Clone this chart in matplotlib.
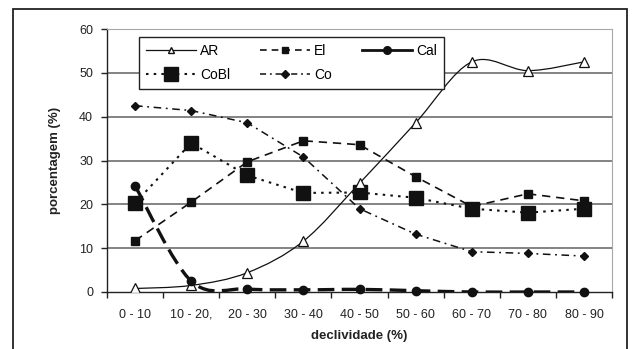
import matplotlib
matplotlib.use("Agg")
import matplotlib.pyplot as plt
import numpy as np
from matplotlib.path import Path
from matplotlib.patches import PathPatch, Rectangle
from matplotlib.lines import Line2D

plt.rcParams['font.family'] = ['Liberation Sans', 'DejaVu Sans']

categories = ["0 - 10", "10 - 20,", "20 - 30", "30 - 40", "40 - 50",
              "50 - 60", "60 - 70", "70 - 80", "80 - 90"]
AR = [0.8, 1.5, 4.4, 11.6, 24.8, 38.6, 52.5, 50.5, 52.5]
El = [11.7, 20.5, 29.7, 34.5, 33.6, 26.3, 19.5, 22.4, 20.8]
Cal = [24.2, 2.5, 0.7, 0.5, 0.6, 0.3, 0.0, 0.0, 0.0]
CoBl = [20.3, 34.0, 26.6, 22.6, 22.7, 21.5, 19.0, 18.1, 19.0]
Co = [42.5, 41.4, 38.6, 30.8, 19.0, 13.2, 9.2, 8.8, 8.2]
yticks = [0, 10, 20, 30, 40, 50, 60]


def smooth_path(xs, ys):
    pts = np.column_stack([xs, ys]).astype(float)
    n = len(pts)
    verts = [pts[0]]
    codes = [Path.MOVETO]
    for i in range(n - 1):
        p0 = pts[i - 1] if i > 0 else pts[i]
        p1 = pts[i]
        p2 = pts[i + 1]
        p3 = pts[i + 2] if i + 2 < n else pts[i + 1]
        c1 = p1 + (p2 - p0) / 6.0
        c2 = p2 - (p3 - p1) / 6.0
        verts += [c1, c2, p2]
        codes += [Path.CURVE4] * 3
    return Path(verts, codes)


fig = plt.figure(figsize=(6.34, 3.49), dpi=100)
W, H = 634, 349
ax = fig.add_axes([107 / W, 1 - 292 / H, 505 / W, 263 / H])

x = np.arange(1, len(categories) + 1)
k = '#111111'

# AR: smoothed thin solid line, open triangles
ax.add_patch(PathPatch(smooth_path(x, AR), fill=False, edgecolor=k, lw=0.9, zorder=3))
ax.plot(x, AR, linestyle='none', marker='^', ms=6.5, mfc='white', mec=k, mew=0.9, zorder=4)

# El: dashed, small squares
ax.plot(x, El, linestyle=(0, (5, 3.5)), color=k, lw=1.2, marker='s', ms=5.5, mfc=k, mec=k, zorder=3)

# Cal: thick long dash smoothed, circles
ax.add_patch(PathPatch(smooth_path(x, Cal), fill=False, edgecolor=k, lw=2.4,
                       linestyle=(0, (5, 2.2)), zorder=3))
ax.plot(x, Cal, linestyle='none', marker='o', ms=6, mfc=k, mec=k, zorder=4, clip_on=False)

# CoBl: dotted, big squares
ax.plot(x, CoBl, linestyle=(0, (1.2, 2.5)), color=k, lw=1.5, marker='s', ms=10, mfc=k, mec=k, zorder=3)

# Co: dash-dot, small diamonds
ax.plot(x, Co, linestyle=(0, (5, 3, 1.2, 3)), color=k, lw=1.1, marker='D', ms=4.5, mfc=k, mec=k, zorder=3)

ax.set_xlim(0.5, len(categories) + 0.5)
ax.set_ylim(0, 60)
ax.set_yticks(yticks)
ax.set_xticks(x)
ax.set_xticklabels(categories)
ax.set_xticks(np.arange(0.5, len(categories) + 1, 1.0), minor=True)
ax.tick_params(axis='x', which='major', length=0, pad=12, labelsize=9, colors='#222222')
ax.tick_params(axis='x', which='minor', length=4, width=1, color='#222222', direction='out')
ax.tick_params(axis='y', length=4, width=1, pad=6, labelsize=9, colors='#222222', direction='out')

for yv in yticks[1:-1]:
    ax.axhline(yv, color='#7a7a7a', lw=1.3, zorder=1)
ax.spines['top'].set_color('#a8a8a8')
ax.spines['right'].set_color('#a8a8a8')
ax.spines['left'].set_color('#222222')
ax.spines['bottom'].set_color('#222222')
ax.spines['left'].set_linewidth(1.0)
ax.spines['bottom'].set_linewidth(1.0)

ax.set_ylabel('porcentagem (%)', fontweight='bold', fontsize=9.5, labelpad=13, color='#222222')
ax.set_xlabel('declividade (%)', fontweight='bold', fontsize=9.5, labelpad=7, color='#222222')

handles = [
    Line2D([], [], color=k, lw=0.9, marker='^', ms=5, mfc='white', mec=k),
    Line2D([], [], color=k, lw=1.2, linestyle=(0, (4, 3)), marker='s', ms=5, mfc=k, mec=k),
    Line2D([], [], color=k, lw=2.0, marker='o', ms=5.5, mfc=k, mec=k),
    Line2D([], [], color=k, lw=1.5, linestyle=(0, (1.2, 2.5)), marker='s', ms=10, mfc=k, mec=k),
    Line2D([], [], color=k, lw=1.1, linestyle=(0, (4, 2.5, 1.2, 2.5)), marker='D', ms=4, mfc=k, mec=k),
]
labels = ['AR', 'El', 'Cal', 'CoBl', 'Co']
order = [0, 3, 1, 4, 2]
leg = ax.legend([handles[i] for i in order], [labels[i] for i in order],
                ncol=3, loc='upper left', bbox_to_anchor=(0.0495, 0.997),
                fontsize=10, frameon=True, fancybox=False, handlelength=3.6,
                handletextpad=0.3, columnspacing=2.15, labelspacing=0.75,
                borderpad=0.5, numpoints=1)
leg.get_frame().set_edgecolor('#222222')
leg.get_frame().set_linewidth(1.0)
leg.get_frame().set_alpha(1)
leg.set_zorder(10)

fig.patches.append(Rectangle((13 / W, -0.05), (627 - 13) / W, 1.05 - 9 / H,
                             transform=fig.transFigure, fill=False,
                             edgecolor='#222222', lw=1.3))

fig.savefig('out.png', dpi=100)
